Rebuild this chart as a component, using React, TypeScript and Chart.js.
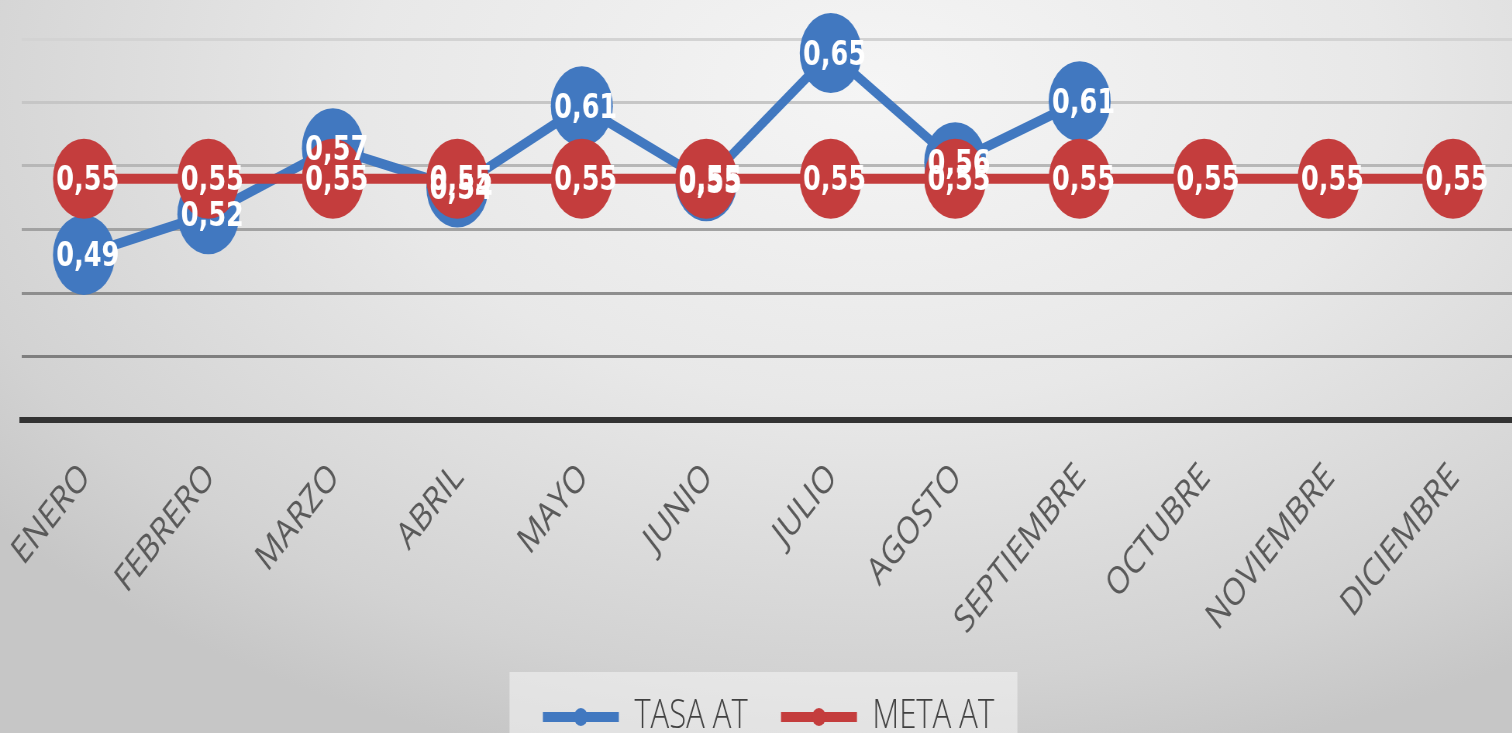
import React, { useEffect, useRef } from 'react';
import { Chart, registerables } from 'chart.js';

Chart.register(...registerables);

const MONTHS = ['ENERO', 'FEBRERO', 'MARZO', 'ABRIL', 'MAYO', 'JUNIO', 'JULIO', 'AGOSTO', 'SEPTIEMBRE', 'OCTUBRE', 'NOVIEMBRE', 'DICIEMBRE'];
const TASA_AT = [0.49, 0.522, 0.574, 0.543, 0.607, 0.548, 0.649, 0.563, 0.611, null, null, null];
const META_AT = [0.55, 0.55, 0.55, 0.55, 0.55, 0.55, 0.55, 0.55, 0.55, 0.55, 0.55, 0.55];
const Y_TICKS = [0.36, 0.41, 0.46, 0.51, 0.56, 0.61, 0.66];
const GRID_SHADES = ['#333333', '#7f7f7f', '#8e8e8e', '#a2a2a2', '#b7b7b7', '#c6c6c6', '#d3d3d3'];

const BLUE = '#4178C0';
const RED = '#C43D3D';

const SCALE_X = 0.775;
const CSS_W = 1530;
const CSS_H = 747;
const CANVAS_W = Math.round(CSS_W / SCALE_X);

const fmt = (v: number) => v.toFixed(2).replace('.', ',');

export default function App() {
  const ref = useRef<HTMLCanvasElement | null>(null);

  useEffect(() => {
    const canvas = ref.current;
    if (!canvas) return;

    const legendBg = {
      id: 'legendBg',
      beforeDraw(chart: any) {
        const lg = chart.legend;
        if (!lg || !lg.legendHitBoxes || !lg.legendHitBoxes.length) return;
        const hb = lg.legendHitBoxes;
        const first = hb[0];
        const last = hb[hb.length - 1];
        const cy = first.top + first.height / 2;
        const ctx = chart.ctx;
        ctx.save();
        ctx.fillStyle = 'rgba(245,245,245,0.55)';
        const x0 = first.left - 43;
        const x1 = last.left + last.width + 30;
        ctx.fillRect(x0, cy - 45, x1 - x0, 200);
        ctx.restore();
      },
    };

    const legendDots = {
      id: 'legendDots',
      afterDraw(chart: any) {
        const lg = chart.legend;
        if (!lg || !lg.legendHitBoxes) return;
        const ctx = chart.ctx;
        const bw = lg.options.labels.boxWidth;
        lg.legendItems.forEach((item: any, i: number) => {
          const hb = lg.legendHitBoxes[i];
          ctx.save();
          ctx.fillStyle = item.fillStyle;
          ctx.beginPath();
          ctx.arc(hb.left + bw / 2, hb.top + hb.height / 2, 9, 0, Math.PI * 2);
          ctx.fill();
          ctx.restore();
        });
      },
    };

    const dataLabels = {
      id: 'dataLabels',
      afterDatasetsDraw(chart: any) {
        const ctx = chart.ctx;
        ctx.save();
        ctx.fillStyle = '#ffffff';
        ctx.font = 'bold 33px "DejaVu Sans"';
        ctx.textAlign = 'center';
        ctx.textBaseline = 'middle';
        chart.data.datasets.forEach((ds: any, di: number) => {
          const meta = chart.getDatasetMeta(di);
          meta.data.forEach((pt: any, i: number) => {
            const v = ds.data[i];
            if (v === null || v === undefined) return;
            ctx.fillText(fmt(v), pt.x + 5, pt.y + 3);
          });
        });
        ctx.restore();
      },
    };

    const chart = new Chart(canvas, {
      type: 'line',
      data: {
        labels: MONTHS,
        datasets: [
          {
            label: 'TASA AT',
            data: TASA_AT,
            borderColor: BLUE,
            backgroundColor: BLUE,
            borderWidth: 10,
            pointRadius: 40,
            pointHoverRadius: 40,
            pointBackgroundColor: BLUE,
            pointBorderColor: BLUE,
            pointBorderWidth: 0,
            tension: 0,
            spanGaps: false,
            clip: false,
            order: 1,
          },
          {
            label: 'META AT',
            data: META_AT,
            borderColor: RED,
            backgroundColor: RED,
            borderWidth: 10,
            pointRadius: 40,
            pointHoverRadius: 40,
            pointBackgroundColor: RED,
            pointBorderColor: RED,
            pointBorderWidth: 0,
            tension: 0,
            clip: false,
            order: 0,
          },
        ],
      },
      options: {
        responsive: false,
        devicePixelRatio: 1,
        animation: false,
        events: [],
        layout: { autoPadding: false, padding: { left: 28, right: 19, top: 39, bottom: 0 } },
        plugins: {
          tooltip: { enabled: false },
          legend: {
            position: 'bottom',
            labels: {
              boxWidth: 98,
              boxHeight: 10,
              padding: 43,
              color: '#404040',
              font: { family: '"Open Sans"', size: 40, weight: 300 },
              sort: (a: any, b: any) => a.datasetIndex - b.datasetIndex,
              generateLabels: (c: any) =>
                (Chart.defaults.plugins.legend.labels.generateLabels as any)(c).map((l: any) => ({
                  ...l,
                  lineWidth: 0,
                  fillStyle: l.strokeStyle,
                })),
            },
          },
        },
        scales: {
          x: {
            type: 'category',
            offset: true,
            grid: { display: false, drawTicks: false },
            border: { display: true, color: '#333333', width: 6 },
            ticks: {
              color: '#595959',
              font: { family: '"Open Sans"', size: 38 },
              minRotation: 45,
              maxRotation: 45,
              autoSkip: false,
              padding: 35,
              labelOffset: 2,
            },
            afterFit(s: any) {
              s.height = 234;
              s.paddingLeft = 0;
              s.paddingRight = 0;
            },
          },
          y: {
            type: 'linear',
            min: 0.36,
            max: 0.66,
            ticks: { display: false },
            border: { display: false },
            grid: {
              drawTicks: false,
              lineWidth: 3,
              color: (c: any) => GRID_SHADES[c.index] || '#bbbbbb',
            },
            afterBuildTicks(s: any) {
              s.ticks = Y_TICKS.map((v) => ({ value: v }));
            },
            afterFit(s: any) {
              s.width = 0;
            },
          },
        },
      },
      plugins: [legendBg, dataLabels, legendDots],
    } as any);

    return () => chart.destroy();
  }, []);

  return (
    <div
      style={{
        position: 'fixed',
        left: 0,
        top: 0,
        width: 1512,
        height: 733,
        overflow: 'hidden',
        background:
          'radial-gradient(ellipse 75% 95% at 58% 12%, #f5f5f5 0%, #e8e8e8 45%, #d2d2d2 85%, #c6c6c6 100%)',
      }}
    >
      <canvas
        ref={ref}
        width={CANVAS_W}
        height={CSS_H}
        style={{ width: CSS_W + 'px', height: CSS_H + 'px', display: 'block' }}
      />
    </div>
  );
}
